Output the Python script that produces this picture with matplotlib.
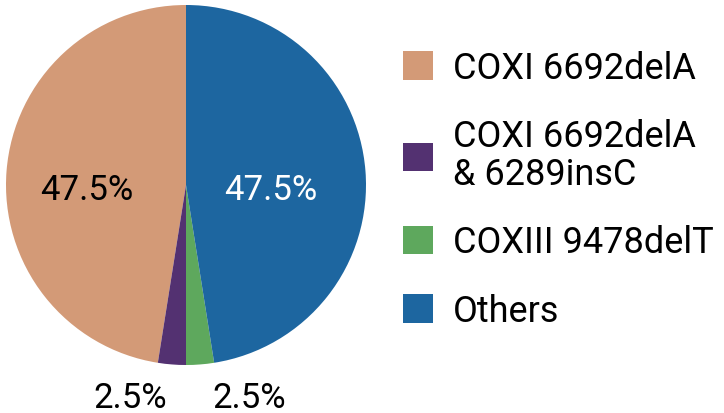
import numpy as np
import matplotlib.pyplot as plt

labels = ['COXI 6692delA', 'COXI 6692delA\n& 6289insC', 'COXIII 9478delT', 'Others']
values = [47.5, 2.5, 2.5, 47.5]
colors = ['#D39A77', '#533171', '#5EA85D', '#1D66A0']
pct_colors = ['black', 'black', 'black', 'white']

plt.rcParams['font.family'] = ['Roboto', 'DejaVu Sans']

fig = plt.figure(figsize=(7.24, 4.14), dpi=100)
ax = fig.add_axes([6/724, 48/414, 360/724, 360/414])

wedges, texts, autotexts = ax.pie(values, colors=colors, startangle=90, counterclock=True,
                                  autopct='%.1f%%', pctdistance=0.5, radius=1,
                                  wedgeprops=dict(linewidth=0),
                                  textprops=dict(fontsize=25))
ax.set_xlim(-1, 1)
ax.set_ylim(-1, 1)

for i, t in enumerate(autotexts):
    t.set_color(pct_colors[i])
    ang = np.deg2rad((wedges[i].theta1 + wedges[i].theta2) / 2)
    left = np.cos(ang) < 0
    if values[i] < 10:
        # small slices: label sits below the pie
        t.set_position((np.cos(ang) + (-0.23 if left else 0.27), -1.18))
    else:
        t.set_position((-0.55 if left else 0.47, -0.025))

leg = ax.legend(wedges, labels, loc='center left', bbox_to_anchor=(0.512, 0.54),
                bbox_transform=fig.transFigure, frameon=False, fontsize=26,
                handlelength=0.83, handleheight=0.83, handletextpad=0.55, labelspacing=0.9)
for txt in leg.get_texts():
    txt.set_linespacing(1.05)

fig.savefig('out.png', dpi=100)
